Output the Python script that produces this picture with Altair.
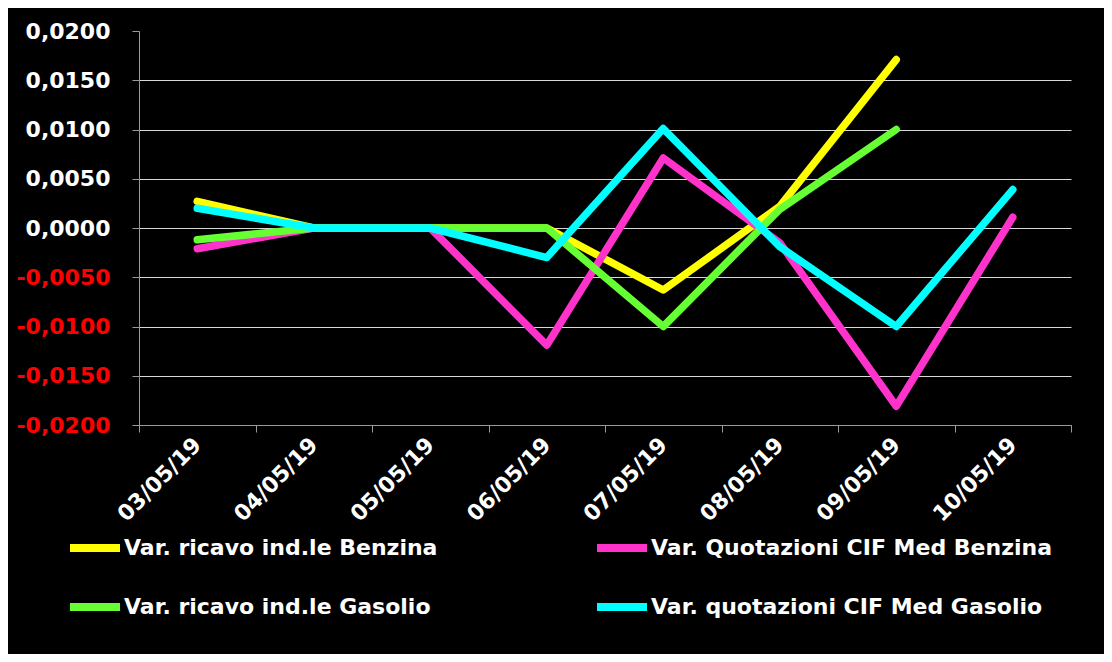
import altair as alt
import pandas as pd

dates = ["03/05/19", "04/05/19", "05/05/19", "06/05/19", "07/05/19", "08/05/19", "09/05/19", "10/05/19"]
series = [
    "Var. ricavo ind.le Benzina",
    "Var. Quotazioni CIF Med Benzina",
    "Var. ricavo ind.le Gasolio",
    "Var. quotazioni CIF Med Gasolio",
]
colors = ["#FFFF00", "#FF33CC", "#66FF33", "#00FFFF"]

ricavo_benzina = [0.0027, 0.0, 0.0, 0.0, -0.0063, 0.0022, 0.0171, None]
quot_benzina = [-0.0021, 0.0, 0.0, -0.0119, 0.0071, -0.0015, -0.0181, 0.0011]
ricavo_gasolio = [-0.0012, 0.0, 0.0, 0.0, -0.0100, 0.0019, 0.0100, None]
quot_gasolio = [0.0020, 0.0, 0.0, -0.0030, 0.0101, -0.0019, -0.0100, 0.0039]

y_ticks = [-0.02, -0.015, -0.01, -0.005, 0.0, 0.005, 0.01, 0.015, 0.02]

rows = []
for name, vals in zip(series, [ricavo_benzina, quot_benzina, ricavo_gasolio, quot_gasolio]):
    for d, v in zip(dates, vals):
        if v is not None:
            rows.append({"data": d, "serie": name, "valore": v})
df = pd.DataFrame(rows)

FONT = "DejaVu Sans"

chart = alt.Chart(df).mark_line(
    strokeWidth=7.5, strokeCap="round", strokeJoin="round"
).encode(
    x=alt.X(
        "data:N",
        sort=dates,
        scale=alt.Scale(type="band", paddingInner=0, paddingOuter=0),
        axis=alt.Axis(
            title=None,
            labelAngle=-45,
            labelAlign="right",
            labelBaseline="middle",
            labelColor="white",
            labelFont=FONT,
            labelFontWeight="bold",
            labelFontSize=22,
            labelPadding=9,
            tickBand="extent",
            tickColor="#9a9a9a",
            tickSize=7,
            domainColor="#9a9a9a",
            gridColor="#a6a6a6",
            gridOpacity={"condition": {"test": "datum.index >= 1", "value": 0}, "value": 1},
        ),
    ),
    y=alt.Y(
        "valore:Q",
        scale=alt.Scale(domain=[-0.02, 0.02], nice=False, zero=False),
        axis=alt.Axis(
            title=None,
            values=y_ticks,
            labelExpr="(datum.value < 0 ? '-' : '') + replace(format(abs(datum.value), '.4f'), '.', ',')",
            labelColor={"condition": {"test": "datum.value < 0", "value": "#FF0000"}, "value": "white"},
            labelFont=FONT,
            labelFontWeight="bold",
            labelFontSize=22,
            labelPadding=22,
            tickColor="#9a9a9a",
            tickSize=7,
            domainColor="#9a9a9a",
            gridColor="#d9d9d9",
            gridOpacity={"condition": {"test": "datum.value >= 0.02", "value": 0}, "value": 1},
        ),
    ),
    color=alt.Color(
        "serie:N",
        sort=series,
        scale=alt.Scale(domain=series, range=colors),
        legend=alt.Legend(
            title=None,
            orient="none",
            direction="horizontal",
            legendX=-73,
            legendY=488,
            columns=2,
            columnPadding=143,
            rowPadding=14,
            symbolType="stroke",
            symbolSize=2500,
            symbolStrokeWidth=8,
            labelOffset=0,
            labelFont=FONT,
            labelFontWeight="bold",
            labelFontSize=22,
            labelColor="white",
            labelLimit=600,
        ),
    ),
).properties(
    width=932,
    height=394,
    padding={"left": 131, "top": 23, "right": 33, "bottom": 229},
    autosize=alt.AutoSizeParams(type="none"),
    background="black",
).configure_view(stroke=None)

chart.save("out.html", embed_options={"renderer": "svg", "actions": False})
